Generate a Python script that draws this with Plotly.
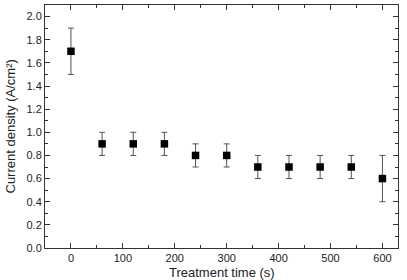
import plotly.graph_objects as go

treatment_time = [0, 60, 120, 180, 240, 300, 360, 420, 480, 540, 600]
current_density = [1.7, 0.9, 0.9, 0.9, 0.8, 0.8, 0.7, 0.7, 0.7, 0.7, 0.6]
error = [0.2, 0.1, 0.1, 0.1, 0.1, 0.1, 0.1, 0.1, 0.1, 0.1, 0.2]
x_title = "Treatment time (s)"
y_title = "Current density (A/cm²)"

font_family = "Liberation Sans, Arial"

fig = go.Figure()
fig.add_trace(go.Scatter(
    x=treatment_time, y=current_density, mode="markers",
    marker=dict(symbol="square", size=7.5, color="black"),
    error_y=dict(type="data", array=error, visible=True, color="#5e4e4c", thickness=1, width=3),
))

axis_common = dict(
    showline=True, linecolor="#333", linewidth=1, mirror="allticks",
    ticks="inside", ticklen=5, tickcolor="#333", showgrid=False, zeroline=False,
    tickfont=dict(family=font_family, size=11, color="#222"),
    automargin=False,
)
fig.update_xaxes(
    range=[-50, 630], tickmode="linear", tick0=0, dtick=100,
    minor=dict(ticks="inside", dtick=50, ticklen=3, tickcolor="#333"),
    **axis_common,
)
fig.update_yaxes(
    range=[0, 2.1], tickmode="linear", tick0=0, dtick=0.2, tickformat=".1f",
    minor=dict(ticks="inside", dtick=0.1, ticklen=3, tickcolor="#333"),
    **axis_common,
)
fig.add_annotation(
    text=x_title, xref="paper", yref="paper", x=0.5, y=0,
    xanchor="center", yanchor="middle", yshift=-24, showarrow=False,
    font=dict(family=font_family, size=13, color="#222"),
)
fig.add_annotation(
    text=y_title, xref="paper", yref="paper", x=0, y=0.5,
    xanchor="center", yanchor="middle", xshift=-35, textangle=-90, showarrow=False,
    font=dict(family=font_family, size=13, color="#222"),
)
fig.update_layout(
    width=407, height=280, margin=dict(l=45, r=9, t=5, b=32),
    paper_bgcolor="white", plot_bgcolor="white", showlegend=False,
)
fig.write_html("out.html")
